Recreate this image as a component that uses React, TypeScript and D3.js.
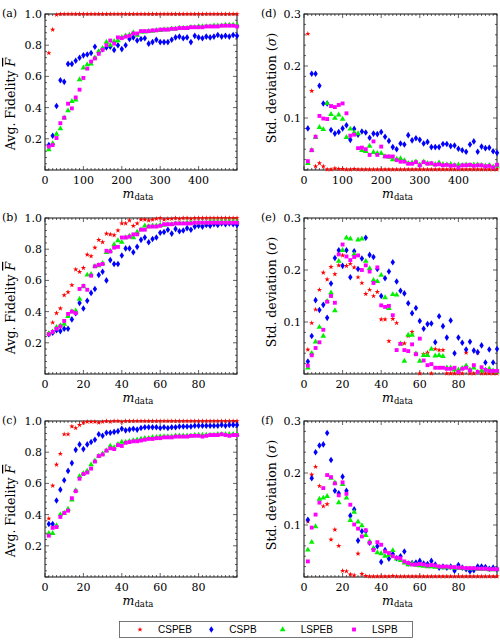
import React, { useEffect, useRef } from "react";
import * as d3 from "d3";

// training set sizes
const mLarge = [10, 20, 30, 40, 50, 60, 70, 80, 90, 100, 110, 120, 130, 140, 150, 160, 170, 180, 190, 200,
  210, 220, 230, 240, 250, 260, 270, 280, 290, 300, 310, 320, 330, 340, 350, 360, 370, 380, 390, 400,
  410, 420, 430, 440, 450, 460, 470, 480, 490, 500];
const mSmall = [2, 4, 6, 8, 10, 12, 14, 16, 18, 20, 22, 24, 26, 28, 30, 32, 34, 36, 38, 40,
  42, 44, 46, 48, 50, 52, 54, 56, 58, 60, 62, 64, 66, 68, 70, 72, 74, 76, 78, 80,
  82, 84, 86, 88, 90, 92, 94, 96, 98, 100];

const seriesNames = ["CSPEB", "CSPB", "LSPEB", "LSPB"];
const seriesColors = ["#ff0000", "#0000ff", "#00f000", "#ff00ff"];

// (a) fidelity, large m
const aCSPEB = [0.75, 0.9, 0.995, 1, 1, 1, 1, 1, 1, 1, 1, 1, 1, 1, 1, 1, 1, 1, 1, 1,
  1, 1, 1, 1, 1, 1, 1, 1, 1, 1, 1, 1, 1, 1, 1, 1, 1, 1, 1, 1, 1, 1, 1, 1, 1, 1, 1, 1, 1, 1];
const aCSPB = [0.16, 0.22, 0.41, 0.575, 0.565, 0.68, 0.68, 0.7, 0.72, 0.735, 0.74, 0.75, 0.79, 0.755, 0.775,
  0.785, 0.79, 0.77, 0.8, 0.775, 0.8, 0.84, 0.85, 0.83, 0.84, 0.845, 0.81, 0.82, 0.835, 0.82,
  0.82, 0.82, 0.835, 0.85, 0.855, 0.845, 0.85, 0.82, 0.86, 0.85, 0.845, 0.855, 0.85, 0.855, 0.865,
  0.855, 0.86, 0.855, 0.865, 0.86];
const aLSPEB = [0.13, 0.17, 0.23, 0.265, 0.335, 0.38, 0.44, 0.45, 0.58, 0.655, 0.675, 0.68, 0.72, 0.76, 0.78,
  0.82, 0.8, 0.825, 0.83, 0.85, 0.86, 0.865, 0.88, 0.865, 0.885, 0.885, 0.89, 0.89, 0.895, 0.895,
  0.9, 0.9, 0.905, 0.905, 0.91, 0.91, 0.91, 0.915, 0.915, 0.92, 0.92, 0.92, 0.92, 0.925, 0.925,
  0.925, 0.93, 0.93, 0.93, 0.93];
const aLSPB = [0.15, 0.16, 0.205, 0.3, 0.335, 0.425, 0.395, 0.465, 0.515, 0.59, 0.65, 0.695, 0.715, 0.745, 0.77,
  0.8, 0.83, 0.81, 0.85, 0.845, 0.855, 0.86, 0.875, 0.875, 0.89, 0.89, 0.89, 0.895, 0.895, 0.9,
  0.9, 0.9, 0.905, 0.905, 0.91, 0.91, 0.91, 0.915, 0.915, 0.915, 0.915, 0.92, 0.92, 0.92, 0.92,
  0.925, 0.925, 0.925, 0.925, 0.92];

// (d) std deviation, large m
const dCSPEB = [0.262, 0.152, 0.007, 0.013, 0.007, 0.001, 0.001, 0.003, 0.002, 0.002, 0.001, 0.001, 0.002, 0.001, 0.001,
  0.001, 0.001, 0.001, 0.001, 0.001, 0.001, 0.001, 0.001, 0.001, 0.001, 0.001, 0.001, 0.001, 0.001, 0.001,
  0.001, 0.001, 0.001, 0.001, 0.001, 0.001, 0.001, 0.001, 0.001, 0.001, 0.001, 0.001, 0.001, 0.001, 0.001,
  0.001, 0.001, 0.001, 0.001, 0.001];
const dCSPB = [0.08, 0.185, 0.185, 0.162, 0.128, 0.128, 0.077, 0.07, 0.073, 0.08, 0.086, 0.058, 0.079, 0.068, 0.074,
  0.072, 0.062, 0.07, 0.069, 0.073, 0.064, 0.056, 0.044, 0.04, 0.051, 0.049, 0.067, 0.057, 0.061, 0.058,
  0.051, 0.054, 0.044, 0.044, 0.044, 0.05, 0.05, 0.046, 0.047, 0.041, 0.038, 0.035, 0.049, 0.055, 0.035,
  0.045, 0.042, 0.043, 0.036, 0.033];
const dLSPEB = [0.013, 0.038, 0.063, 0.082, 0.078, 0.128, 0.107, 0.1, 0.106, 0.098, 0.063, 0.079, 0.072, 0.07, 0.038,
  0.036, 0.046, 0.034, 0.032, 0.032, 0.026, 0.025, 0.02, 0.021, 0.022, 0.018, 0.013, 0.014, 0.016, 0.01,
  0.016, 0.013, 0.012, 0.011, 0.014, 0.011, 0.01, 0.011, 0.009, 0.01, 0.009, 0.01, 0.009, 0.01, 0.01,
  0.009, 0.008, 0.009, 0.006, 0.008];
const dLSPB = [0.017, 0.038, 0.064, 0.104, 0.099, 0.098, 0.123, 0.121, 0.125, 0.128, 0.109, 0.066, 0.068, 0.042, 0.043,
  0.04, 0.029, 0.055, 0.029, 0.045, 0.026, 0.026, 0.026, 0.019, 0.016, 0.016, 0.012, 0.012, 0.015, 0.009,
  0.015, 0.012, 0.013, 0.01, 0.011, 0.009, 0.01, 0.008, 0.009, 0.005, 0.009, 0.009, 0.01, 0.008, 0.009,
  0.009, 0.007, 0.008, 0.005, 0.01];

// (b) fidelity, small m
const bCSPEB = [0.26, 0.33, 0.39, 0.42, 0.505, 0.525, 0.57, 0.67, 0.655, 0.68, 0.765, 0.755, 0.81, 0.86, 0.845,
  0.9, 0.895, 0.89, 0.92, 0.965, 0.965, 0.985, 0.95, 0.965, 0.99, 0.99, 0.985, 0.99, 0.995, 1,
  0.99, 0.995, 0.995, 1, 0.995, 1, 1, 0.995, 1, 1, 1, 1, 1, 1, 1, 1, 1, 1, 1, 1];
const bCSPB = [0.255, 0.265, 0.28, 0.275, 0.29, 0.29, 0.35, 0.39, 0.455, 0.42, 0.47, 0.52, 0.545, 0.635, 0.655,
  0.6, 0.73, 0.705, 0.705, 0.76, 0.805, 0.805, 0.78, 0.815, 0.86, 0.875, 0.845, 0.865, 0.875, 0.905,
  0.91, 0.925, 0.9, 0.93, 0.915, 0.92, 0.935, 0.925, 0.945, 0.95, 0.945, 0.955, 0.95, 0.96, 0.955,
  0.965, 0.96, 0.965, 0.96, 0.955];
const bLSPEB = [0.26, 0.27, 0.3, 0.31, 0.32, 0.37, 0.4, 0.405, 0.48, 0.56, 0.635, 0.64, 0.69, 0.695, 0.71,
  0.78, 0.79, 0.83, 0.855, 0.845, 0.875, 0.885, 0.875, 0.91, 0.925, 0.95, 0.945, 0.95, 0.95, 0.955,
  0.955, 0.96, 0.96, 0.965, 0.965, 0.965, 0.97, 0.97, 0.97, 0.97, 0.97, 0.97, 0.975, 0.975, 0.975,
  0.975, 0.975, 0.975, 0.975, 0.975];
const bLSPB = [0.255, 0.27, 0.29, 0.305, 0.34, 0.385, 0.4, 0.39, 0.545, 0.565, 0.54, 0.63, 0.69, 0.7, 0.705,
  0.79, 0.785, 0.81, 0.815, 0.875, 0.875, 0.88, 0.895, 0.895, 0.925, 0.925, 0.945, 0.945, 0.945, 0.95,
  0.96, 0.96, 0.96, 0.965, 0.965, 0.965, 0.965, 0.965, 0.97, 0.97, 0.97, 0.97, 0.97, 0.97, 0.97,
  0.97, 0.97, 0.97, 0.97, 0.97];

// (e) std deviation, small m
const eCSPEB = [0.047, 0.098, 0.124, 0.162, 0.195, 0.182, 0.206, 0.192, 0.209, 0.228, 0.208, 0.212, 0.205, 0.186, 0.175,
  0.154, 0.162, 0.15, 0.158, 0.105, 0.105, 0.063, 0.106, 0.098, 0.059, 0.059, 0.073, 0.081, 0.039, 0.001,
  0.038, 0.041, 0.001, 0.048, 0.046, 0.046, 0.001, 0.001, 0.001, 0.001, 0.001, 0.041, 0.001, 0.001, 0.041,
  0.001, 0.001, 0.001, 0.001, 0.001];
const eCSPB = [0.024, 0.073, 0.142, 0.123, 0.133, 0.108, 0.174, 0.223, 0.238, 0.208, 0.238, 0.186, 0.236, 0.202, 0.222,
  0.262, 0.229, 0.225, 0.202, 0.15, 0.184, 0.197, 0.215, 0.178, 0.16, 0.155, 0.136, 0.117, 0.127, 0.102,
  0.087, 0.096, 0.097, 0.061, 0.111, 0.092, 0.07, 0.103, 0.04, 0.07, 0.06, 0.047, 0.062, 0.045, 0.042,
  0.055, 0.022, 0.047, 0.022, 0.048];
const eLSPEB = [0.012, 0.04, 0.062, 0.09, 0.073, 0.14, 0.156, 0.122, 0.217, 0.238, 0.262, 0.26, 0.23, 0.258, 0.26,
  0.217, 0.203, 0.18, 0.178, 0.19, 0.147, 0.126, 0.153, 0.152, 0.058, 0.025, 0.075, 0.075, 0.039, 0.025,
  0.036, 0.036, 0.048, 0.035, 0.036, 0.034, 0.012, 0.012, 0.008, 0.008, 0.011, 0.016, 0.008, 0.012, 0.004,
  0.006, 0.008, 0.01, 0.006, 0.004];
const eLSPB = [0.016, 0.036, 0.05, 0.061, 0.085, 0.139, 0.15, 0.137, 0.23, 0.249, 0.226, 0.219, 0.225, 0.228, 0.2,
  0.209, 0.197, 0.175, 0.205, 0.132, 0.129, 0.131, 0.113, 0.046, 0.058, 0.046, 0.044, 0.057, 0.038, 0.068,
  0.026, 0.017, 0.019, 0.012, 0.012, 0.012, 0.01, 0.01, 0.012, 0.004, 0.01, 0.012, 0.007, 0.017, 0.004,
  0.013, 0.008, 0.006, 0.006, 0.006];

// (c) fidelity, small m
const cCSPEB = [0.375, 0.585, 0.72, 0.79, 0.915, 0.915, 0.965, 0.955, 0.975, 0.99, 0.995, 0.995, 0.995, 0.99, 0.995,
  1, 0.995, 1, 1, 0.995, 1, 1, 1, 1, 1, 1, 1, 1, 1, 1, 1, 1, 1, 1, 1, 1, 1, 1, 1, 1,
  1, 1, 1, 1, 1, 1, 1, 1, 1, 1];
const cCSPB = [0.34, 0.34, 0.49, 0.56, 0.62, 0.68, 0.73, 0.815, 0.85, 0.82, 0.85, 0.865, 0.88, 0.915, 0.905,
  0.925, 0.925, 0.93, 0.935, 0.95, 0.94, 0.945, 0.95, 0.945, 0.955, 0.96, 0.96, 0.96, 0.96, 0.955,
  0.96, 0.955, 0.96, 0.96, 0.965, 0.965, 0.965, 0.965, 0.97, 0.97, 0.97, 0.97, 0.97, 0.97, 0.97,
  0.975, 0.97, 0.975, 0.975, 0.975];
const cLSPEB = [0.28, 0.28, 0.33, 0.4, 0.41, 0.435, 0.495, 0.555, 0.645, 0.665, 0.68, 0.72, 0.745, 0.775, 0.79,
  0.81, 0.84, 0.83, 0.85, 0.865, 0.865, 0.87, 0.875, 0.88, 0.885, 0.89, 0.89, 0.895, 0.895, 0.9,
  0.9, 0.9, 0.9, 0.905, 0.905, 0.905, 0.905, 0.905, 0.91, 0.91, 0.91, 0.91, 0.91, 0.91, 0.915,
  0.915, 0.915, 0.915, 0.915, 0.915];
const cLSPB = [0.265, 0.315, 0.32, 0.385, 0.41, 0.425, 0.505, 0.55, 0.63, 0.66, 0.67, 0.695, 0.74, 0.775, 0.785,
  0.81, 0.825, 0.82, 0.845, 0.84, 0.86, 0.865, 0.87, 0.87, 0.875, 0.88, 0.885, 0.885, 0.89, 0.89,
  0.895, 0.895, 0.895, 0.9, 0.9, 0.9, 0.9, 0.905, 0.905, 0.905, 0.9, 0.905, 0.91, 0.91, 0.91,
  0.915, 0.91, 0.905, 0.91, 0.91];

// (f) std deviation, small m
const fCSPEB = [0.107, 0.197, 0.212, 0.175, 0.136, 0.14, 0.072, 0.091, 0.06, 0.012, 0.011, 0.005, 0.003, 0.045, 0.006,
  0.002, 0.001, 0.001, 0.001, 0.001, 0.001, 0.001, 0.002, 0.001, 0.001, 0.001, 0.001, 0.001, 0.001, 0.001,
  0.001, 0.001, 0.001, 0.001, 0.001, 0.001, 0.001, 0.001, 0.001, 0.001, 0.001, 0.001, 0.001, 0.001, 0.001,
  0.001, 0.001, 0.001, 0.001, 0.001];
const fCSPB = [0.11, 0.19, 0.24, 0.253, 0.255, 0.277, 0.225, 0.166, 0.161, 0.193, 0.166, 0.118, 0.13, 0.07, 0.088,
  0.088, 0.066, 0.054, 0.059, 0.029, 0.052, 0.035, 0.044, 0.036, 0.04, 0.049, 0.026, 0.027, 0.028, 0.031,
  0.026, 0.025, 0.031, 0.024, 0.018, 0.02, 0.018, 0.02, 0.012, 0.023, 0.018, 0.015, 0.011, 0.013, 0.02,
  0.02, 0.019, 0.016, 0.018, 0.015];
const fLSPEB = [0.052, 0.067, 0.097, 0.15, 0.152, 0.155, 0.19, 0.181, 0.143, 0.178, 0.152, 0.109, 0.125, 0.106, 0.099,
  0.08, 0.068, 0.055, 0.047, 0.045, 0.04, 0.042, 0.051, 0.035, 0.032, 0.027, 0.024, 0.026, 0.023, 0.022,
  0.021, 0.02, 0.02, 0.019, 0.019, 0.018, 0.018, 0.018, 0.017, 0.017, 0.017, 0.016, 0.016, 0.016, 0.015,
  0.015, 0.015, 0.014, 0.014, 0.014];
const fLSPB = [0.03, 0.095, 0.12, 0.143, 0.171, 0.196, 0.192, 0.18, 0.157, 0.182, 0.16, 0.139, 0.101, 0.093, 0.078,
  0.09, 0.066, 0.052, 0.067, 0.062, 0.049, 0.046, 0.04, 0.037, 0.036, 0.03, 0.027, 0.024, 0.024, 0.025,
  0.024, 0.022, 0.023, 0.022, 0.02, 0.02, 0.02, 0.019, 0.019, 0.018, 0.018, 0.017, 0.017, 0.017, 0.016,
  0.016, 0.016, 0.015, 0.015, 0.015];

const fidTicks = [0.2, 0.4, 0.6, 0.8, 1.0];
const stdTicks = [0.1, 0.2, 0.3];
const largeTicks = [0, 100, 200, 300, 400];
const smallTicks = [0, 20, 40, 60, 80];

const panels = [
  { label: "(a)", col: 0, row: 0, m: mLarge, kind: "fid", data: [aCSPEB, aCSPB, aLSPEB, aLSPB] },
  { label: "(d)", col: 1, row: 0, m: mLarge, kind: "std", data: [dCSPEB, dCSPB, dLSPEB, dLSPB] },
  { label: "(b)", col: 0, row: 1, m: mSmall, kind: "fid", data: [bCSPEB, bCSPB, bLSPEB, bLSPB] },
  { label: "(e)", col: 1, row: 1, m: mSmall, kind: "std", data: [eCSPEB, eCSPB, eLSPEB, eLSPB] },
  { label: "(c)", col: 0, row: 2, m: mSmall, kind: "fid", data: [cCSPEB, cCSPB, cLSPEB, cLSPB] },
  { label: "(f)", col: 1, row: 2, m: mSmall, kind: "std", data: [fCSPEB, fCSPB, fLSPEB, fLSPB] },
];

const width = 500;
const height = 641;
const colX = [[45, 237], [304, 497]];
const rowY = [[14, 170], [218, 374], [421, 577]];
const serif = "DejaVu Serif";

function markerPath(i: number) {
  if (i === 0) return d3.symbol(d3.symbolStar, 9)();
  if (i === 1) return "M0,-3.3L2.2,0L0,3.3L-2.2,0Z";
  if (i === 2) return d3.symbol(d3.symbolTriangle, 14)();
  return d3.symbol(d3.symbolSquare, 15)();
}

function App() {
  const svgRef = useRef(null);

  useEffect(() => {
    const svg = d3.select(svgRef.current);
    svg.selectAll("*").remove();

    svg.append("rect").attr("width", width).attr("height", height).attr("fill", "white");

    panels.forEach((p) => {
      const [x0, x1] = colX[p.col];
      const [yTop, yBot] = rowY[p.row];
      const large = p.m === mLarge;
      const x = d3.scaleLinear().domain([0, large ? 500 : 100]).range([x0, x1]);
      const y = d3
        .scaleLinear()
        .domain([0, p.kind === "fid" ? 1 : 0.3])
        .range([yBot, yTop]);

      const g = svg.append("g");

      // minor + major ticks on all four sides, pointing inward
      const xMinor = d3.range(0, large ? 501 : 101, large ? 10 : 2);
      const xMajor = large ? largeTicks : smallTicks;
      const yMinor = p.kind === "fid" ? d3.range(0, 1.001, 0.04) : d3.range(0, 0.301, 0.02);
      const yMajor = p.kind === "fid" ? [0, ...fidTicks] : [0, ...stdTicks];

      const tick = (x1_: number, y1_: number, x2_: number, y2_: number) =>
        g.append("line")
          .attr("x1", x1_).attr("y1", y1_).attr("x2", x2_).attr("y2", y2_)
          .attr("stroke", "#222").attr("stroke-width", 0.7);

      xMinor.forEach((v) => {
        const len = xMajor.includes(v) ? 4 : 2;
        tick(x(v), yBot, x(v), yBot - len);
        tick(x(v), yTop, x(v), yTop + len);
      });
      yMinor.forEach((v) => {
        const len = yMajor.some((t) => Math.abs(t - v) < 1e-6) ? 4 : 2;
        tick(x0, y(v), x0 + len, y(v));
        tick(x1, y(v), x1 - len, y(v));
      });

      g.append("rect")
        .attr("x", x0).attr("y", yTop)
        .attr("width", x1 - x0).attr("height", yBot - yTop)
        .attr("fill", "none").attr("stroke", "#111").attr("stroke-width", 1);

      // tick labels
      g.selectAll(".xl")
        .data(xMajor)
        .join("text")
        .attr("x", (d) => x(d))
        .attr("y", yBot + 14)
        .attr("text-anchor", "middle")
        .attr("font-family", serif)
        .attr("font-size", 11)
        .text((d) => d);

      g.selectAll(".yl")
        .data(p.kind === "fid" ? fidTicks : stdTicks)
        .join("text")
        .attr("x", x0 - 3)
        .attr("y", (d) => y(d) + 4)
        .attr("text-anchor", "end")
        .attr("font-family", serif)
        .attr("font-size", 11)
        .text((d) => d.toFixed(1));

      // panel label
      g.append("text")
        .attr("x", x0 - 43)
        .attr("y", yTop + 3)
        .attr("font-family", serif)
        .attr("font-size", 11)
        .text(p.label);

      // x axis title
      const xt = g.append("text")
        .attr("x", (x0 + x1) / 2 - 3)
        .attr("y", yBot + 28)
        .attr("text-anchor", "middle")
        .attr("font-family", serif)
        .attr("font-size", 12.5);
      xt.append("tspan").attr("font-style", "italic").text("m");
      xt.append("tspan").attr("font-size", 8.5).attr("dy", 2).text("data");

      // y axis title
      const cy = (yTop + yBot) / 2;
      if (p.kind === "fid") {
        const yt = g.append("text")
          .attr("transform", `translate(${x0 - 30},${cy + 12})rotate(-90)`)
          .attr("text-anchor", "middle")
          .attr("font-family", serif)
          .attr("font-size", 12.5);
        yt.append("tspan").text("Avg. Fidelity ");
        yt.append("tspan")
          .attr("font-style", "italic")
          .attr("text-decoration", "overline")
          .text("F");
      } else {
        const yt = g.append("text")
          .attr("transform", `translate(${x0 - 28},${cy - 4})rotate(-90)`)
          .attr("text-anchor", "middle")
          .attr("font-family", serif)
          .attr("font-size", 12.5);
        yt.append("tspan").text("Std. deviation (");
        yt.append("tspan").attr("font-style", "italic").text("σ");
        yt.append("tspan").text(")");
      }

      // points
      p.data.forEach((vals, si) => {
        g.append("g")
          .selectAll("path")
          .data(vals.map((v, i) => ({ m: p.m[i], v })))
          .join("path")
          .attr("transform", (d) => `translate(${x(d.m)},${y(d.v)})`)
          .attr("d", markerPath(si))
          .attr("fill", seriesColors[si]);
      });
    });

    // legend
    const lg = svg.append("g");
    lg.append("rect")
      .attr("x", 119.5).attr("y", 621.5)
      .attr("width", 293).attr("height", 16)
      .attr("fill", "white").attr("stroke", "#555").attr("stroke-width", 0.8);
    const legendX = d3.scalePoint().domain(seriesNames).range([140, 354]);
    seriesNames.forEach((name, i) => {
      lg.append("path")
        .attr("transform", `translate(${legendX(name)},629.5)`)
        .attr("d", markerPath(i))
        .attr("fill", seriesColors[i]);
      lg.append("text")
        .attr("x", legendX(name)! + 18)
        .attr("y", 633)
        .attr("font-family", "Liberation Sans")
        .attr("font-size", 10)
        .text(name);
    });
  }, []);

  return (
    <svg
      ref={svgRef}
      width={width}
      height={height}
      style={{ position: "absolute", left: 0, top: 0 }}
    ></svg>
  );
}

export default App;
